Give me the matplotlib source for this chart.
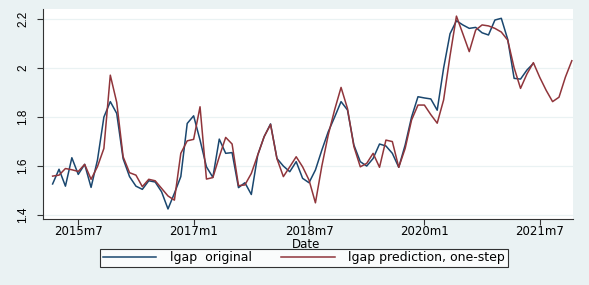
import numpy as np
import pandas as pd
import matplotlib
matplotlib.use("Agg")
from matplotlib import pyplot as plt

plt.rcParams['font.family'] = ['DejaVu Sans']

# monthly data, 2015m3 onwards
start = '2015-03'
lgap_original = [
    1.527, 1.587, 1.518, 1.634, 1.566, 1.607, 1.513, 1.625, 1.800, 1.863,
    1.815, 1.630, 1.557, 1.518, 1.505, 1.540, 1.535, 1.495, 1.425, 1.489,
    1.557, 1.774, 1.805, 1.706, 1.597, 1.554, 1.710, 1.652, 1.655, 1.512,
    1.532, 1.484, 1.645, 1.720, 1.772, 1.631, 1.600, 1.577, 1.618, 1.550,
    1.532, 1.584, 1.665, 1.740, 1.800, 1.863, 1.829, 1.686, 1.618, 1.600,
    1.631, 1.690, 1.682, 1.652, 1.595, 1.686, 1.800, 1.883, 1.878, 1.874,
    1.828, 2.000, 2.140, 2.193, 2.176, 2.162, 2.166, 2.144, 2.135, 2.196,
    2.203, 2.117, 1.958, 1.955, 1.992, 2.019,
]
lgap_pred = [
    1.559, 1.563, 1.590, 1.585, 1.578, 1.607, 1.546, 1.598, 1.672, 1.971,
    1.860, 1.638, 1.573, 1.563, 1.516, 1.546, 1.540, 1.509, 1.478, 1.461,
    1.652, 1.703, 1.709, 1.842, 1.547, 1.553, 1.638, 1.717, 1.690, 1.520,
    1.523, 1.570, 1.645, 1.720, 1.770, 1.630, 1.557, 1.597, 1.638, 1.597,
    1.543, 1.450, 1.600, 1.727, 1.830, 1.921, 1.835, 1.680, 1.597, 1.611,
    1.652, 1.595, 1.706, 1.700, 1.595, 1.672, 1.788, 1.849, 1.849, 1.810,
    1.775, 1.870, 2.050, 2.212, 2.140, 2.067, 2.155, 2.176, 2.172, 2.162,
    2.147, 2.114, 2.001, 1.917, 1.976, 2.022, 1.962, 1.909, 1.863, 1.881,
    1.963, 2.030,
]
x_ticks = ['2015-07', '2017-01', '2018-07', '2020-01', '2021-07']
x_ticklabels = ['2015m7', '2017m1', '2018m7', '2020m1', '2021m7']
y_ticks = [1.4, 1.6, 1.8, 2.0, 2.2]
y_ticklabels = ['1.4', '1.6', '1.8', '2', '2.2']

bg = '#eaf2f3'
navy = '#1a476f'
maroon = '#90353b'

t_orig = pd.period_range(start, periods=len(lgap_original), freq='M').asi8
t_pred = pd.period_range(start, periods=len(lgap_pred), freq='M').asi8
tick_pos = [pd.Period(t, freq='M').ordinal for t in x_ticks]

fig = plt.figure(figsize=(5.89, 2.85), dpi=100, facecolor=bg)
ax = fig.add_axes([0.073, 0.2316, 0.900, 0.7368])
ax.set_facecolor('white')

l1, = ax.plot(t_orig, lgap_original, color=navy, lw=1.1)
l2, = ax.plot(t_pred, lgap_pred, color=maroon, lw=1.1)

ax.set_xlim(tick_pos[0] - 5.5, tick_pos[-1] + 5.2)
ax.set_ylim(1.384, 2.241)

ax.set_yticks(y_ticks)
ax.set_yticklabels(y_ticklabels, rotation=90, va='center', fontsize=8.5,
                   family='Liberation Sans')
ax.set_xticks(tick_pos)
ax.set_xticklabels(x_ticklabels, fontsize=8.5)
ax.tick_params(axis='both', direction='out', length=4, width=0.8, color='#333333',
               labelcolor='black')
ax.tick_params(axis='x', pad=0.5)
ax.tick_params(axis='y', pad=6)

ax.grid(axis='y', color='#eaf2f3', lw=0.9)
ax.set_axisbelow(True)
for s in ['top', 'right']:
    ax.spines[s].set_visible(False)
for s in ['left', 'bottom']:
    ax.spines[s].set_color('#333333')
    ax.spines[s].set_linewidth(0.8)

fig.text(0.52, 1 - 237.5 / 285, 'Date', ha='center', va='top', fontsize=8.5)

leg = fig.legend([l1, l2], ['lgap  original', 'lgap prediction, one-step'],
                 loc='upper center', bbox_to_anchor=(0.516, 1 - 249 / 285), ncol=2,
                 frameon=True, fancybox=False, edgecolor='black',
                 fontsize=9, handlelength=4.3, columnspacing=2.3,
                 borderpad=0.2, handletextpad=1.1, borderaxespad=0)
leg.get_frame().set_linewidth(0.8)
leg.get_frame().set_facecolor('white')

fig.savefig('out.png', dpi=100, facecolor=bg)
